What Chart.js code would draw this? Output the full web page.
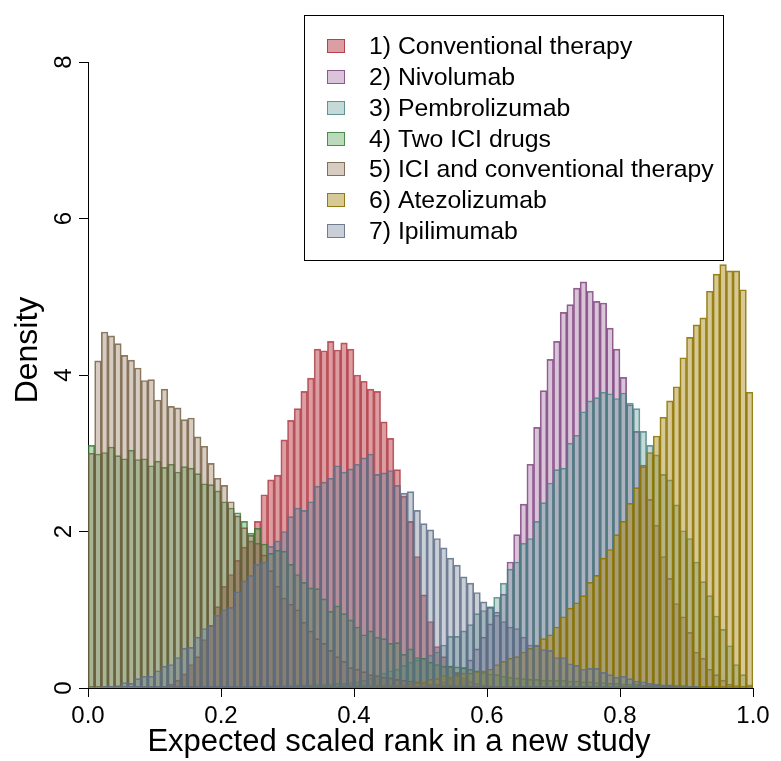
<!DOCTYPE html>
<html>
<head>
<meta charset="utf-8">
<script src="https://cdn.jsdelivr.net/npm/chart.js@4.4.1/dist/chart.umd.min.js"></script>
<style>
  html, body { margin: 0; padding: 0; background: #fff; }
  #wrap { width: 781px; height: 761px; }
</style>
</head>
<body>
<div id="wrap"><canvas id="rankChart" width="781" height="761"></canvas></div>
<script>
// 100 bins of width 0.01 on [0, 1]
const binWidth = 0.01
const binMids = Array.from({ length: 100 }, (_, i) => +(i * binWidth + binWidth / 2).toFixed(3))

const xTickValues = [0, 0.2, 0.4, 0.6, 0.8, 1.0]
const yTickValues = [0, 2, 4, 6, 8]
const xTitle = 'Expected scaled rank in a new study'
const yTitle = 'Density'

const seriesNames = [
    '1) Conventional therapy',
    '2) Nivolumab',
    '3) Pembrolizumab',
    '4) Two ICI drugs',
    '5) ICI and conventional therapy',
    '6) Atezolizumab',
    '7) Ipilimumab'
]

const conventional = [
    0, 0, 0, 0, 0, 0, 0, 0, 0.01, 0.01,
    0.01, 0.02, 0.05, 0.10, 0.18, 0.30, 0.40, 0.62, 0.80, 1.04,
    1.30, 1.45, 1.63, 1.80, 1.88, 2.13, 2.47, 2.66, 2.72, 3.17,
    3.42, 3.57, 3.79, 3.96, 4.33, 4.31, 4.43, 4.32, 4.41, 4.33,
    4.00, 3.92, 3.82, 3.79, 3.40, 3.19, 2.79, 2.45, 2.13, 1.68,
    1.19, 0.85, 0.53, 0.40, 0.28, 0.20, 0.13, 0.09, 0.06, 0.04,
    0.03, 0.02, 0.01, 0.01, 0, 0, 0, 0, 0, 0,
    0, 0, 0, 0, 0, 0, 0, 0, 0, 0,
    0, 0, 0, 0, 0, 0, 0, 0, 0, 0,
    0, 0, 0, 0, 0, 0, 0, 0, 0, 0
]
const nivolumab = [
    0, 0, 0, 0, 0, 0, 0, 0, 0, 0,
    0, 0, 0, 0, 0, 0, 0, 0, 0, 0,
    0, 0, 0, 0, 0, 0, 0, 0, 0, 0,
    0, 0, 0, 0, 0, 0, 0, 0, 0, 0,
    0, 0, 0, 0, 0, 0, 0.01, 0.01, 0.01, 0.02,
    0.02, 0.03, 0.05, 0.08, 0.12, 0.18, 0.26, 0.36, 0.50, 0.65,
    0.82, 0.97, 1.20, 1.61, 1.96, 2.35, 2.86, 3.33, 3.80, 4.20,
    4.43, 4.80, 4.90, 5.11, 5.19, 5.07, 4.94, 4.92, 4.60, 4.33,
    3.97, 3.62, 3.28, 2.85, 2.41, 2.08, 1.68, 1.40, 1.08, 0.91,
    0.71, 0.46, 0.38, 0.24, 0.17, 0.10, 0.05, 0.03, 0.02, 0.01
]
const pembrolizumab = [
    0, 0, 0, 0, 0, 0, 0, 0, 0, 0,
    0, 0, 0, 0, 0, 0.01, 0.01, 0.01, 0.01, 0.01,
    0.01, 0.01, 0.01, 0.02, 0.02, 0.02, 0.02, 0.03, 0.03, 0.03,
    0.03, 0.04, 0.04, 0.04, 0.05, 0.05, 0.05, 0.06, 0.06, 0.07,
    0.08, 0.10, 0.13, 0.16, 0.19, 0.22, 0.24, 0.29, 0.33, 0.36,
    0.38, 0.42, 0.46, 0.55, 0.66, 0.66, 0.73, 0.81, 0.95, 0.99,
    1.04, 1.16, 1.34, 1.52, 1.61, 1.85, 1.91, 2.13, 2.37, 2.62,
    2.79, 2.81, 3.13, 3.23, 3.53, 3.67, 3.71, 3.78, 3.76, 3.70,
    3.77, 3.64, 3.57, 3.28, 3.10, 2.98, 2.73, 2.66, 2.34, 2.01,
    1.91, 1.61, 1.36, 1.18, 0.92, 0.75, 0.54, 0.30, 0.17, 0.04
]
const twoIci = [
    3.10, 2.99, 3.01, 3.08, 2.97, 2.93, 3.04, 2.92, 2.93, 2.84,
    2.90, 2.82, 2.86, 2.76, 2.83, 2.81, 2.74, 2.61, 2.60, 2.52,
    2.38, 2.30, 2.24, 2.13, 1.98, 2.04, 1.84, 1.72, 1.76, 1.75,
    1.58, 1.45, 1.35, 1.28, 1.27, 1.14, 0.98, 1.05, 0.95, 0.87,
    0.78, 0.68, 0.73, 0.65, 0.63, 0.57, 0.58, 0.43, 0.50, 0.39,
    0.38, 0.33, 0.30, 0.28, 0.28, 0.27, 0.26, 0.24, 0.22, 0.20,
    0.18, 0.17, 0.15, 0.14, 0.13, 0.12, 0.11, 0.11, 0.10, 0.10,
    0.10, 0.10, 0.09, 0.09, 0.08, 0.08, 0.07, 0.07, 0.06, 0.06,
    0.05, 0.05, 0.05, 0.04, 0.04, 0.04, 0.03, 0.03, 0.03, 0.03,
    0.02, 0.02, 0.02, 0.02, 0.02, 0.01, 0.01, 0.01, 0.01, 0.01
]
const iciConventional = [
    3.00, 4.18, 4.55, 4.50, 4.40, 4.25, 4.19, 4.09, 3.93, 3.94,
    3.68, 3.82, 3.60, 3.58, 3.43, 3.45, 3.21, 3.09, 2.87, 2.68,
    2.59, 2.38, 2.20, 2.05, 1.95, 1.85, 1.70, 1.50, 1.30, 1.15,
    1.07, 1.00, 0.84, 0.73, 0.63, 0.57, 0.48, 0.40, 0.34, 0.26,
    0.24, 0.21, 0.17, 0.16, 0.14, 0.13, 0.11, 0.10, 0.09, 0.08,
    0.06, 0.05, 0.05, 0.04, 0.04, 0.03, 0.03, 0.02, 0.02, 0.02,
    0.01, 0.01, 0.01, 0.01, 0.01, 0.01, 0, 0, 0, 0,
    0, 0, 0, 0, 0, 0, 0, 0, 0, 0,
    0, 0, 0, 0, 0, 0, 0, 0, 0, 0,
    0, 0, 0, 0, 0, 0, 0, 0, 0, 0
]
const atezolizumab = [
    0, 0, 0, 0, 0, 0, 0, 0, 0, 0,
    0, 0, 0, 0, 0, 0, 0, 0, 0, 0,
    0, 0, 0, 0, 0, 0.01, 0.01, 0.01, 0.01, 0.01,
    0.01, 0.01, 0.01, 0.02, 0.02, 0.02, 0.02, 0.02, 0.03, 0.03,
    0.03, 0.03, 0.03, 0.04, 0.04, 0.04, 0.04, 0.04, 0.05, 0.07,
    0.08, 0.11, 0.12, 0.16, 0.14, 0.16, 0.19, 0.19, 0.21, 0.22,
    0.24, 0.30, 0.34, 0.38, 0.40, 0.46, 0.51, 0.55, 0.63, 0.68,
    0.78, 0.91, 1.02, 1.09, 1.18, 1.35, 1.44, 1.66, 1.77, 1.96,
    2.13, 2.36, 2.56, 2.83, 3.01, 3.22, 3.46, 3.67, 3.85, 4.22,
    4.48, 4.64, 4.73, 5.07, 5.29, 5.41, 5.33, 5.33, 5.09, 3.78
]
const ipilimumab = [
    0.01, 0.01, 0.02, 0.02, 0.03, 0.07, 0.06, 0.12, 0.15, 0.15,
    0.22, 0.28, 0.30, 0.39, 0.51, 0.52, 0.65, 0.76, 0.80, 0.93,
    1.00, 1.03, 1.23, 1.37, 1.44, 1.58, 1.61, 1.81, 1.88, 2.00,
    2.19, 2.30, 2.27, 2.38, 2.58, 2.63, 2.68, 2.84, 2.76, 2.80,
    2.86, 2.94, 2.99, 2.73, 2.75, 2.78, 2.59, 2.49, 2.51, 2.27,
    2.10, 2.02, 1.91, 1.79, 1.66, 1.57, 1.42, 1.34, 1.22, 1.10,
    1.03, 0.93, 0.85, 0.78, 0.76, 0.65, 0.55, 0.54, 0.49, 0.48,
    0.39, 0.39, 0.31, 0.29, 0.24, 0.25, 0.25, 0.20, 0.17, 0.14,
    0.15, 0.12, 0.09, 0.08, 0.06, 0.05, 0.04, 0.04, 0.03, 0.03,
    0.02, 0.02, 0.01, 0.01, 0.01, 0.01, 0, 0, 0, 0
]

const seriesValues = [conventional, nivolumab, pembrolizumab, twoIci, iciConventional, atezolizumab, ipilimumab]

const fillColors = [
    'rgba(180, 40, 50, 0.45)',
    'rgba(128, 60, 130, 0.3)',
    'rgba(80, 140, 140, 0.33)',
    'rgba(60, 150, 60, 0.35)',
    'rgba(130, 100, 70, 0.33)',
    'rgba(165, 135, 20, 0.45)',
    'rgba(95, 110, 135, 0.33)'
]
const edgeColors = [
    'rgba(160, 30, 40, 0.7)',
    'rgba(120, 60, 120, 0.8)',
    'rgba(70, 130, 130, 0.8)',
    'rgba(50, 120, 50, 0.8)',
    'rgba(110, 90, 60, 0.8)',
    'rgba(140, 115, 0, 0.9)',
    'rgba(95, 110, 135, 0.85)'
]

const fontFamily = '"Liberation Sans", Arial, Helvetica, sans-serif'
Chart.defaults.font.family = fontFamily
Chart.defaults.color = '#000'

// legend box inside the plot and the two axis titles, placed like base R does
const legendBox = {
    id: 'legendBox',
    afterDraw(chart) {
        const ctx = chart.ctx
        ctx.save()
        ctx.fillStyle = '#fff'
        ctx.fillRect(304, 15, 419, 245)
        ctx.lineWidth = 1
        ctx.strokeStyle = '#000'
        ctx.strokeRect(304.5, 15.5, 419, 245)
        ctx.font = '24.8px ' + fontFamily
        ctx.textBaseline = 'middle'
        chart.data.datasets.forEach((ds, i) => {
            const y = Math.round(46.3 + i * 30.75)
            ctx.fillStyle = ds.backgroundColor
            ctx.fillRect(327, y - 7, 18, 14)
            ctx.strokeStyle = ds.borderColor
            ctx.strokeRect(327.5, y - 6.5, 17, 13)
            ctx.fillStyle = '#000'
            ctx.fillText(ds.label, 369, y + 1)
        })

        ctx.fillStyle = '#000'
        ctx.textAlign = 'center'
        ctx.font = '31px ' + fontFamily
        ctx.fillText(xTitle, 399, 742)
        ctx.translate(28, 350)
        ctx.rotate(-Math.PI / 2)
        ctx.font = '32px ' + fontFamily
        ctx.fillText(yTitle, 0, 0)
        ctx.restore()
    }
}

const ctx = document.getElementById('rankChart').getContext('2d')
const rankChart = new Chart(ctx, {
    type: 'bar',
    data: {
        datasets: seriesNames.map((name, i) => ({
            label: name,
            data: seriesValues[i].map((v, j) => ({ x: binMids[j], y: v })),
            backgroundColor: fillColors[i],
            borderColor: edgeColors[i],
            borderWidth: 1,
            borderSkipped: false,
            barPercentage: 1,
            categoryPercentage: 1,
            grouped: false,
            order: seriesNames.length - 1 - i
        }))
    },
    options: {
        responsive: false,
        animation: false,
        devicePixelRatio: 1,
        layout: { padding: { top: 62, right: 28, left: 0, bottom: 0 } },
        plugins: {
            legend: { display: false },
            tooltip: { enabled: false }
        },
        scales: {
            x: {
                type: 'linear',
                min: 0,
                max: 1,
                offset: false,
                afterFit: s => { s.height = 73 },
                afterBuildTicks: s => { s.ticks = xTickValues.map(v => ({ value: v })) },
                ticks: {
                    font: { size: 24 },
                    padding: 5,
                    maxRotation: 0,
                    callback: v => v.toFixed(1)
                },
                grid: { offset: false, drawOnChartArea: false, tickLength: 9, color: '#000', lineWidth: 1 },
                border: { display: true, color: '#000', width: 1 }
            },
            y: {
                min: 0,
                max: 8,
                afterFit: s => { s.width = 88 },
                afterBuildTicks: s => { s.ticks = yTickValues.map(v => ({ value: v })) },
                ticks: {
                    font: { size: 24 },
                    padding: 8,
                    minRotation: 90,
                    maxRotation: 90,
                    crossAlign: 'center',
                    callback: v => String(v)
                },
                grid: { drawOnChartArea: false, tickLength: 9, color: '#000', lineWidth: 1 },
                border: { display: true, color: '#000', width: 1 }
            }
        }
    },
    plugins: [legendBox]
})
</script>
</body>
</html>
